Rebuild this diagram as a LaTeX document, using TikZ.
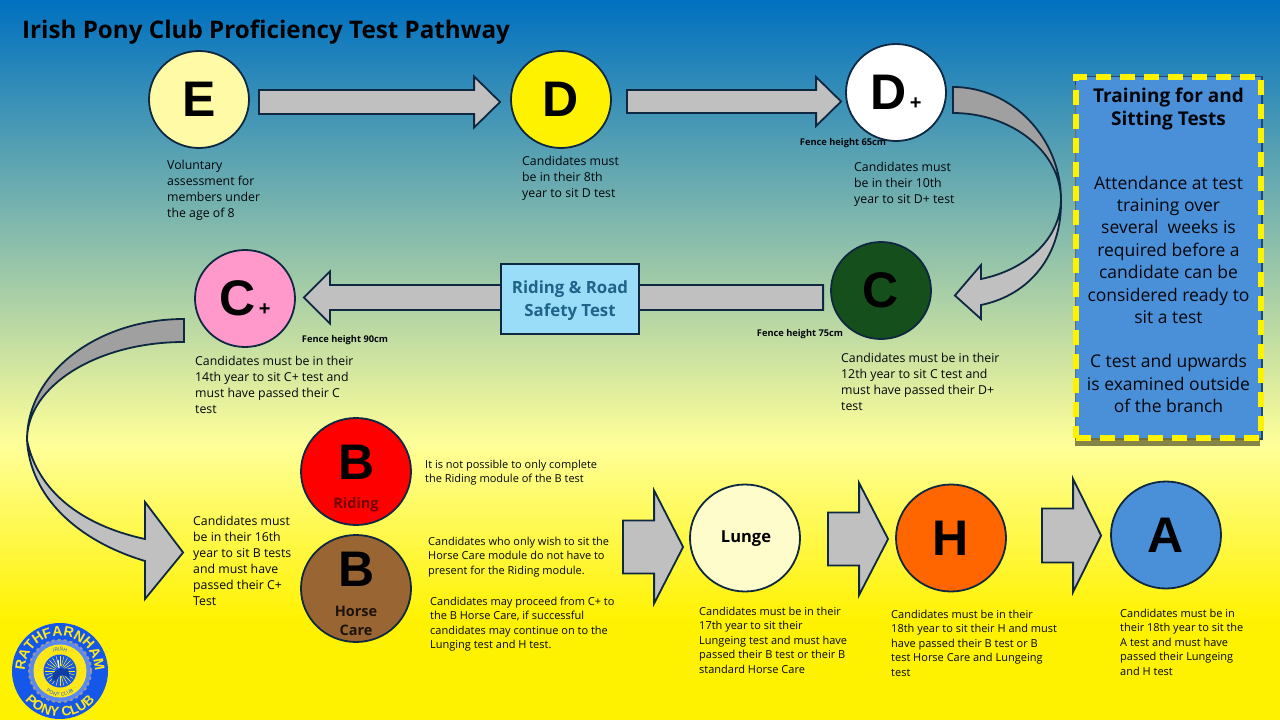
\documentclass[tikz,border=0pt]{standalone}
\usepackage{fontspec}
\setmainfont{Open Sans}
\newfontfamily\letterfont{Liberation Sans}
\newfontfamily\headfont{Open Sans}
\usepackage{tikz}
\usetikzlibrary{arrows.meta, positioning, calc, shapes.geometric, shadows, decorations.text}

\definecolor{lineNavy}{HTML}{0E2841}
\definecolor{arrowGrey}{HTML}{C0C0C0}
\definecolor{foldGrey}{HTML}{A0A0A0}
\definecolor{testBlue}{HTML}{4A90D9}
\definecolor{bgBlue}{HTML}{0070C0}
\definecolor{bgPale}{HTML}{FFFF99}
\definecolor{bgYellow}{HTML}{FFF200}
\definecolor{logoBlue}{HTML}{1557E8}
\definecolor{logoYellow}{HTML}{FFE81A}
\definecolor{testGreen}{HTML}{154F1C}
\definecolor{testPink}{HTML}{FF99CC}
\definecolor{testBrown}{HTML}{996633}
\definecolor{testOrange}{HTML}{FF6600}
\definecolor{safetyBlue}{HTML}{99DDF9}
\definecolor{safetyInk}{HTML}{1F6488}
\definecolor{shadowOlive}{HTML}{77773F}

\pgfdeclareverticalshading{pathwaybg}{100bp}{color(0bp)=(bgYellow); color(31.9bp)=(bgYellow); color(44.1bp)=(bgPale); color(75bp)=(bgBlue); color(100bp)=(bgBlue)}

\tikzset{
    testCircle/.style={draw=lineNavy, line width=1.8pt, shape=ellipse, inner sep=0pt, text=black, font=\letterfont\bfseries\fontsize{50}{50}\selectfont},
    bigCircle/.style={testCircle, minimum width=100pt, minimum height=97pt},
    largeCircle/.style={testCircle, minimum width=110pt, minimum height=107pt},
    noteText/.style={anchor=north west, align=left, inner sep=0pt, text=black!85!lineNavy, font=\fontsize{12.3}{16}\selectfont},
    smallNote/.style={noteText, font=\fontsize{11}{14.5}\selectfont},
    fenceText/.style={inner sep=0pt, text=black!85!lineNavy, font=\bfseries\fontsize{9.3}{10}\selectfont},
    blockLine/.style={draw=lineNavy, line width=1.8pt, fill=arrowGrey, line join=miter},
    subLabel/.style={inner sep=0pt, align=center, font=\headfont\bfseries\fontsize{14.5}{18.5}\selectfont}
}

% from, to, half shaft, half head, signed head length
\newcommand{\blockarrow}[5]{
    \coordinate (tailPt) at #1;
    \coordinate (tipPt) at #2;
    \coordinate (tipPt) at (tipPt |- tailPt);
    \draw[blockLine] ($(tailPt)+(0,-#3)$) -- ($(tipPt)+(-#5,-#3)$) -- ($(tipPt)+(-#5,-#4)$) -- (tipPt) -- ($(tipPt)+(-#5,#4)$) -- ($(tipPt)+(-#5,#3)$) -- ($(tailPt)+(0,#3)$) -- cycle;
}

\begin{document}
\begin{tikzpicture}[x=1pt, y=-1pt, node distance=100pt]

    % Background and title
    \path[use as bounding box, shading=pathwaybg] (0,0) rectangle (1280,720);
    \node (title) [anchor=west, inner sep=0pt, font=\headfont\bfseries\fontsize{24.2}{28}\selectfont] at (22,32.5) {Irish Pony Club Proficiency Test Pathway};

    % Nodes for the tests, top row then back along the second row
    \node (e) [bigCircle, fill=yellow!35!white] at (199,99.5) {E};
    \node (d) [bigCircle, fill=yellow, right of=e, xshift=262pt] {D};
    \node (dplus) [bigCircle, fill=white, right of=d, xshift=235pt, yshift=7pt] {D{\fontsize{20}{20}\selectfont\,+}};
    \node (c) [bigCircle, fill=testGreen, below of=dplus, xshift=-15pt, yshift=-98pt] {C};
    \node (cplus) [bigCircle, fill=testPink, left of=c, xshift=-536pt, yshift=-8pt] {C{\fontsize{20}{20}\selectfont\,+}};

    % Nodes for the bottom row
    \node (bRiding) [largeCircle, fill=red, text=black] at (356,471.5) {};
    \node (bHorse) [largeCircle, fill=testBrown, below of=bRiding, yshift=-17pt] {};
    \node (lunge) [largeCircle, fill=yellow!20!white] at (745,538) {};
    \node (h) [largeCircle, fill=testOrange, right of=lunge, xshift=106pt] {H};
    \node (a) [largeCircle, fill=testBlue, right of=h, xshift=115pt, yshift=3pt] {A};

    % Letters and module names inside the B circles
    \node (bRidingLetter) [inner sep=0pt, font=\letterfont\bfseries\fontsize{50}{50}\selectfont] at (356.5,462) {B};
    \node (bRidingName) [subLabel, text=red!45!black] at (356,505) {Riding};
    \node (bHorseLetter) [inner sep=0pt, font=\letterfont\bfseries\fontsize{50}{50}\selectfont] at (356.5,569.5) {B};
    \node (bHorseName) [subLabel, text=black!85!brown] at (356,621) {Horse\\Care};
    \node (lungeName) [inner sep=0pt, font=\headfont\bfseries\fontsize{16.5}{18}\selectfont] at ($(lunge)+(1,1)$) {Lunge};

    % Straight arrows between the tests
    \blockarrow{($(e.east)+(9,2.5)$)}{($(d.west)+(-10,0)$)}{12}{25.5}{26}
    \blockarrow{($(d.east)+(15,2)$)}{($(dplus.west)+(-4,0)$)}{11.5}{24.5}{25}
    \blockarrow{($(c.west)+(-7,7)$)}{($(cplus.east)+(8,0)$)}{12.5}{26}{-26}
    \blockarrow{($(bHorse.east)+(211,-41.5)$)}{($(lunge.west)+(-6,0)$)}{26.5}{56.5}{29}
    \blockarrow{($(lunge.east)+(27,1)$)}{($(h.west)+(-7,0)$)}{26.5}{56}{29}
    \blockarrow{($(h.east)+(35,-2.5)$)}{($(a.west)+(-9,0)$)}{27}{56.5}{28}

    % Safety test box sits on top of the arrow
    \node (safety) [draw=lineNavy, line width=1.8pt, fill=safetyBlue, minimum width=138pt, minimum height=70pt, inner sep=0pt] at (570,299) {};
    \node (safetyName) [align=center, inner sep=0pt, text=safetyInk, font=\headfont\bfseries\fontsize{16.8}{23}\selectfont] at ($(safety)+(0,2)$) {Riding \& Road\\Safety Test};

    % Curved arrow from D+ down to C
    \coordinate (dcBend) at (1061,200);
    \coordinate (dcTip) at ($(c.east)+(23,5)$);
    \draw[blockLine, fill=foldGrey] (953,87) .. controls (1012,87) and (1061,138) .. (dcBend) .. controls (1061,152) and (1012,113) .. (953,113) -- cycle;
    \draw[blockLine] (dcBend) .. controls (1062,255) and (1030,295) .. (981,305) -- (981,319) -- (dcTip) -- (981,265) -- (981,279) .. controls (1025,270) and (1060,240) .. (dcBend) -- cycle;

    % Curved arrow from C+ down to the B tests
    \coordinate (cbBend) at (27,440);
    \coordinate (cbTip) at ($(bHorse.west)+(-117,-36)$);
    \draw[blockLine, fill=foldGrey] (184,319) .. controls (97,319) and (27,373) .. (cbBend) .. controls (27,386) and (97,342) .. (184,342) -- cycle;
    \draw[blockLine] (cbBend) .. controls (30,495) and (75,540) .. (145,561) -- (145,599) -- (cbTip) -- (145,502) -- (145,539) .. controls (80,525) and (37,490) .. (cbBend) -- cycle;

    % Fence heights
    \node (fenceDplus) [fenceText] at (843,143.5) {Fence height 65cm};
    \node (fenceC) [fenceText] at (800,334.5) {Fence height 75cm};
    \node (fenceCplus) [fenceText] at (345,340.5) {Fence height 90cm};

    % Notes under the tests
    \node (noteE) [noteText] at (167,159.5) {Voluntary\\assessment for\\members under\\the age of 8};
    \node (noteD) [noteText] at (522,155.5) {Candidates must\\be in their 8th\\year to sit D test};
    \node (noteDplus) [noteText] at (854,161.5) {Candidates must\\be in their 10th\\year to sit D+ test};
    \node (noteC) [noteText] at (841,352.5) {Candidates must be in their\\12th year to sit C test and\\must have passed their D+\\test};
    \node (noteCplus) [noteText] at (195,355.5) {Candidates must be in their\\14th year to sit C+ test and\\must have passed their C\\test};
    \node (noteB) [noteText] at (193,515.5) {Candidates must\\be in their 16th\\year to sit B tests\\and must have\\passed their C+\\Test};
    \node (noteRiding) [smallNote] at (425,459.5) {It is not possible to only complete\\the Riding module of the B test};
    \node (noteHorse) [smallNote] at (428,536.5) {Candidates who only wish to sit the\\Horse Care module do not have to\\present for the Riding module.};
    \node (noteProceed) [smallNote] at (430,596.5) {Candidates may proceed from C+ to\\the B Horse Care, if successful\\candidates may continue on to the\\Lunging test and H test.};
    \node (noteLunge) [smallNote] at (699,606.5) {Candidates must be in their\\17th year to sit their\\Lungeing test and must have\\passed their B test or their B\\standard Horse Care};
    \node (noteH) [smallNote] at (891,609.5) {Candidates must be in their\\18th year to sit their H and must\\have passed their B test or B\\test Horse Care and Lungeing\\test};
    \node (noteA) [smallNote] at (1120,608.5) {Candidates must be in\\their 18th year to sit the\\A test and must have\\passed their Lungeing\\and H test};

    % Training panel
    \node (trainingBox) [fill=testBlue, draw=yellow, line width=5.5pt, dash pattern=on 15pt off 9pt, minimum width=185pt, minimum height=361pt, inner sep=0pt, preaction={draw=lineNavy!70!testBlue, line width=3pt, solid}, drop shadow={shadow xshift=-1pt, shadow yshift=-8pt, fill=shadowOlive, opacity=0.9}] at (1168.5,257.5) {};
    \node (trainingText) [anchor=north, align=center, inner sep=0pt, text=black!85!lineNavy, font=\headfont\fontsize{17.5}{22.4}\selectfont] at (trainingBox.north |- 0,88) {{\bfseries\fontsize{19}{22.4}\selectfont Training for and}\\{\bfseries\fontsize{19}{22.4}\selectfont Sitting Tests}\\[41.6pt]Attendance at test\\training over\\several\ \ weeks is\\required before a\\candidate can be\\considered ready to\\sit a test\\[22pt]C test and upwards\\is examined outside\\of the branch};

    % Club badge
    \node (badge) [circle, fill=logoBlue, minimum size=96pt, inner sep=0pt] at (60,671) {};
    \node (badgeRosette) [circle, draw=black!40!white, line width=2pt, dashed, fill=logoBlue!70!white, minimum size=62pt, inner sep=0pt] at (badge) {};
    \node (badgeRing) [circle, fill=logoYellow, minimum size=53pt, inner sep=0pt] at (badge) {};
    \node (badgeSun) [circle, fill=logoBlue, minimum size=33pt, inner sep=0pt] at (badge) {};
    \foreach \ang in {0,15,...,345}
        \draw[logoYellow, line width=0.5pt] ($(badgeSun)+(\ang:5pt)$) -- ($(badgeSun)+(\ang:15pt)$);
    \fill[logoBlue!70!black] (53,673) -- (60,668) -- (68,669) -- (70,678) -- (66,676) -- (60,675) -- (56,681) -- (52,680) -- cycle;
    \draw[white, line width=1.2pt] (59,668) -- (58,660);
    \path[decorate, decoration={text along path, text align=center, text={|\color{logoYellow}\letterfont\bfseries\fontsize{14}{14}\selectfont|RATHFARNHAM}}] ($(badge)+(190:35pt)$) arc[start angle=190, end angle=-10, radius=35pt];
    \path[decorate, decoration={text along path, text align=center, text={|\color{logoYellow}\letterfont\bfseries\fontsize{13.5}{13.5}\selectfont|PONY CLUB}}] ($(badge)+(195:45.5pt)$) arc[start angle=195, end angle=345, radius=45.5pt];
    \path[decorate, decoration={text along path, text align=center, text={|\color{logoBlue}\letterfont\fontsize{5}{5}\selectfont|IRISH}}] ($(badge)+(130:20pt)$) arc[start angle=130, end angle=50, radius=20pt];
    \path[decorate, decoration={text along path, text align=center, text={|\color{logoBlue}\letterfont\fontsize{5}{5}\selectfont|PONY CLUB}}] ($(badge)+(215:25pt)$) arc[start angle=215, end angle=325, radius=25pt];

\end{tikzpicture}
\end{document}
